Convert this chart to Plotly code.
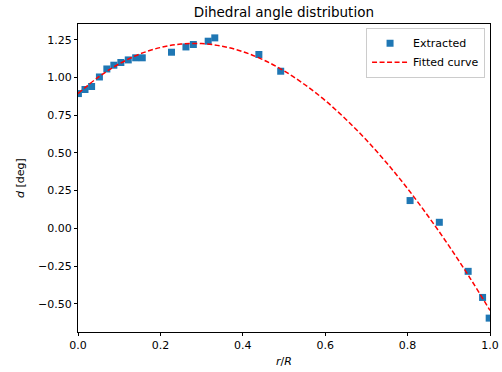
import plotly.graph_objects as go

# Extracted dihedral angle samples along the span
r_extracted = [0.001, 0.017, 0.033, 0.052, 0.070, 0.087, 0.104, 0.122, 0.140, 0.156,
               0.227, 0.262, 0.280, 0.316, 0.332, 0.439, 0.492,
               0.806, 0.877, 0.947, 0.982, 0.998]
d_extracted = [0.893, 0.920, 0.940, 1.003, 1.056, 1.081, 1.099, 1.116, 1.130, 1.130,
               1.167, 1.202, 1.218, 1.240, 1.262, 1.152, 1.041,
               0.184, 0.040, -0.285, -0.458, -0.595]

# Fitted curve, sampled
r_fit = [0.00, 0.05, 0.10, 0.15, 0.20, 0.25, 0.30, 0.35, 0.40, 0.45, 0.50,
         0.55, 0.60, 0.65, 0.70, 0.75, 0.80, 0.85, 0.90, 0.95, 1.00]
d_fit = [0.893, 1.003, 1.090, 1.155, 1.198, 1.221, 1.224, 1.207, 1.171, 1.116, 1.044,
         0.953, 0.847, 0.723, 0.585, 0.431, 0.263, 0.080, -0.115, -0.323, -0.544]

x_ticks = [0.0, 0.2, 0.4, 0.6, 0.8, 1.0]
y_ticks = [-0.50, -0.25, 0.00, 0.25, 0.50, 0.75, 1.00, 1.25]

FONT = "DejaVu Sans"

fig = go.Figure()
fig.add_trace(go.Scatter(
    x=r_extracted, y=d_extracted, mode="markers", name="Extracted",
    marker=dict(symbol="square", size=7, color="#1f77b4",
                line=dict(width=0)),
    cliponaxis=True,
))
fig.add_trace(go.Scatter(
    x=r_fit, y=d_fit, mode="lines", name="Fitted curve",
    line=dict(color="red", width=1.5, dash="5px,2.5px", shape="spline"),
))

axis_common = dict(
    showline=True, linecolor="black", linewidth=1, mirror=True,
    ticks="outside", ticklen=3, tickwidth=1, tickcolor="black",
    showgrid=False, zeroline=False, automargin=False,
    tickfont=dict(family=FONT, size=11, color="black"),
)

fig.update_layout(
    width=502, height=372,
    margin=dict(l=78, r=12, t=24, b=40, autoexpand=False),
    paper_bgcolor="white", plot_bgcolor="white",
    font=dict(family=FONT, color="black"),
    title=dict(text="Dihedral angle distribution", x=0.5656, xanchor="center",
               y=0.967, yanchor="middle",
               font=dict(family=FONT, size=13.5, color="black")),
    xaxis=dict(range=[0, 1], tickvals=x_ticks,
               ticktext=[f"{v:.1f}" for v in x_ticks],
               title=dict(text="<i>r</i>/<i>R</i>", standoff=6,
                          font=dict(family=FONT, size=11)),
               **axis_common),
    yaxis=dict(range=[-0.687, 1.354], tickvals=y_ticks,
               ticktext=[f"{v:.2f}".replace("-", "\u2212") for v in y_ticks],
               title=dict(text="<i>d</i> [deg]", standoff=11,
                          font=dict(family=FONT, size=11)),
               **axis_common),
    legend=dict(x=0.988, y=0.988, xanchor="right", yanchor="top",
                bgcolor="rgba(255,255,255,0.8)", bordercolor="#cccccc",
                borderwidth=1, font=dict(family=FONT, size=11),
                itemwidth=36, tracegroupgap=0),
    showlegend=True,
)

fig.write_html("out.html")
